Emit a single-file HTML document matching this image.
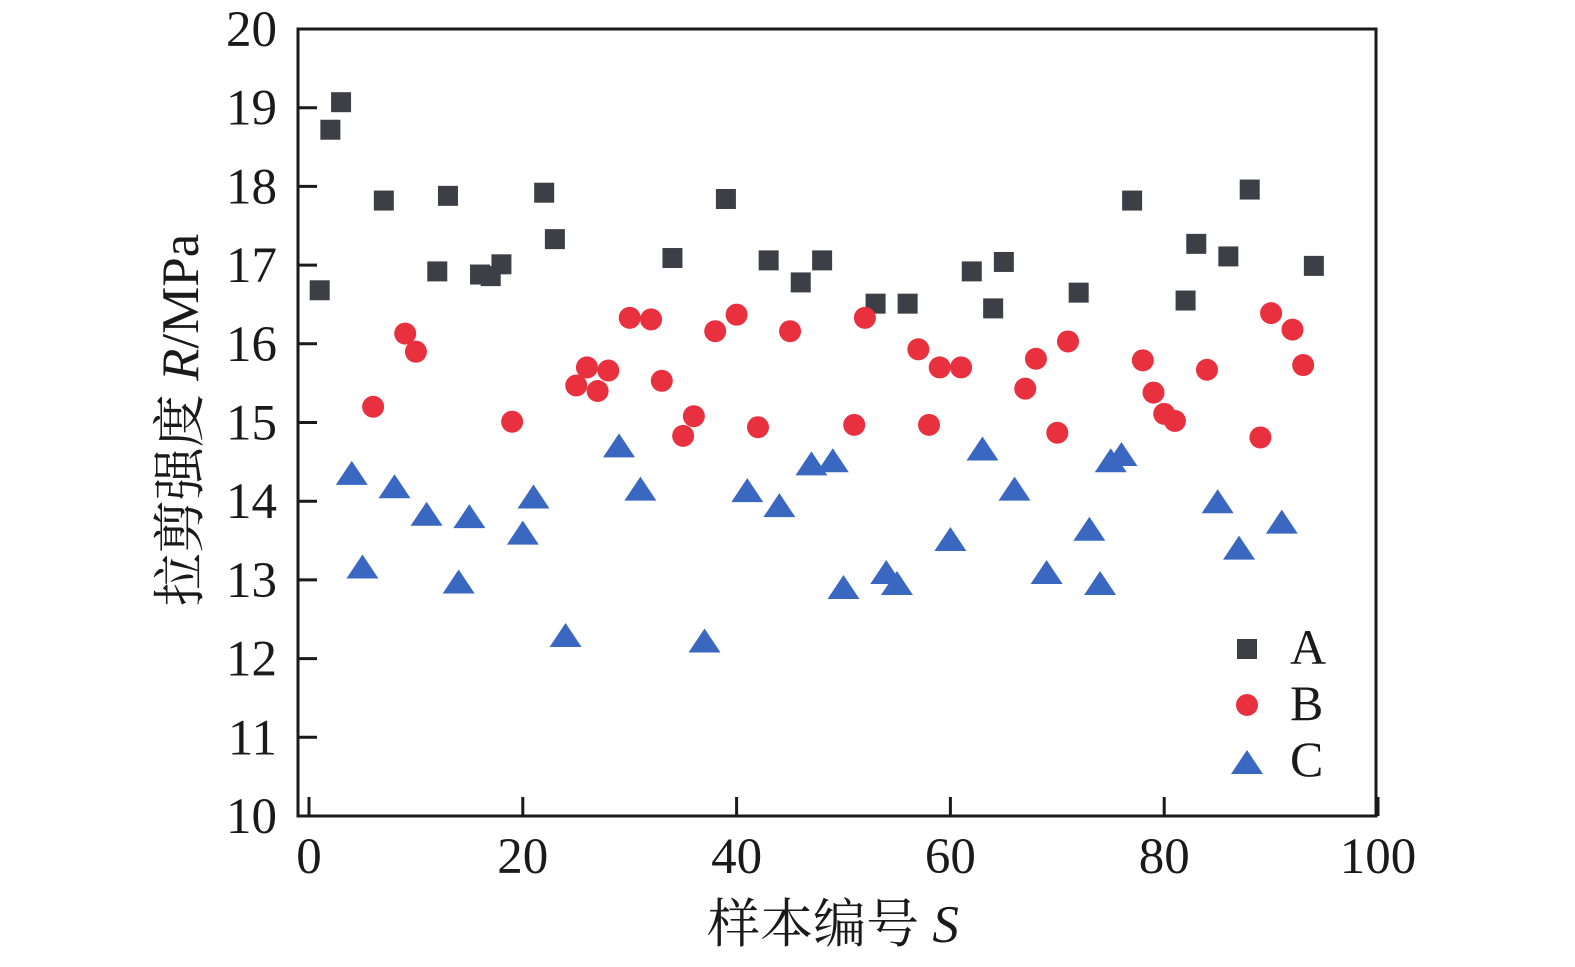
<!DOCTYPE html>
<html><head><meta charset="utf-8"><style>
body{margin:0;background:#fff}
svg text{font-family:"Liberation Serif","Noto Serif CJK SC",serif;fill:#1a1a1a}
</style></head><body>
<svg id="chart" width="1575" height="962" xmlns="http://www.w3.org/2000/svg">
<g id="marks"></g>
<rect x="298" y="29" width="1078" height="787" fill="none" stroke="#1a1a1a" stroke-width="3"/>
<g id="axes"></g>
<text x="833" y="942" font-size="53" text-anchor="middle">样本编号 <tspan font-style="italic">S</tspan></text>
<text transform="translate(198,420) rotate(-90)" font-size="53" text-anchor="middle">拉剪强度 <tspan font-style="italic">R</tspan>/MPa</text>
<g>
<rect x="1237" y="639" width="20" height="20" fill="#3d3f46"/>
<text x="1290" y="664" font-size="50">A</text>
<circle cx="1247" cy="705" r="11" fill="#e8303f"/>
<text x="1290" y="720" font-size="50">B</text>
<polygon points="1247,750 1263,774 1231,774" fill="#3a68c0"/>
<text x="1290" y="776" font-size="50">C</text>
</g>
</svg>
<script>
const xTicks=[0,20,40,60,80,100];
const yTicks=[10,11,12,13,14,15,16,17,18,19,20];
const aX=[1,2,3,7,12,13,16,17,18,22,23,34,39,43,46,48,53,56,62,64,65,72,77,82,83,86,88,94];
const aY=[16.68,18.72,19.07,17.82,16.92,17.88,16.88,16.86,17.01,17.92,17.33,17.09,17.84,17.06,16.78,17.06,16.51,16.51,16.92,16.45,17.04,16.65,17.82,16.55,17.27,17.11,17.96,16.99];
const bX=[6,9,10,19,25,26,27,28,30,32,33,35,36,38,40,42,45,51,52,57,58,59,61,67,68,70,71,78,79,80,81,84,89,90,92,93];
const bY=[15.20,16.13,15.90,15.01,15.47,15.70,15.40,15.66,16.33,16.31,15.53,14.83,15.08,16.16,16.37,14.94,16.16,14.97,16.33,15.93,14.97,15.70,15.70,15.43,15.81,14.87,16.03,15.79,15.38,15.11,15.02,15.67,14.81,16.39,16.18,15.73];
const cX=[4,5,8,11,14,15,20,21,24,29,31,37,41,44,47,49,50,54,55,60,63,66,69,73,74,75,76,85,87,91];
const cY=[14.36,13.17,14.19,13.84,12.98,13.81,13.60,14.06,12.30,14.71,14.16,12.23,14.14,13.95,14.48,14.52,12.91,13.10,12.96,13.52,14.67,14.16,13.10,13.65,12.96,14.52,14.60,14.0,13.41,13.74];
const NS='http://www.w3.org/2000/svg';
const sx=v=>309+v*10.69;
const sy=v=>816-(v-10)*78.7;
const marks=document.getElementById('marks'),axes=document.getElementById('axes');
function mk(tag,attrs,parent){const e=document.createElementNS(NS,tag);for(const k in attrs)e.setAttribute(k,attrs[k]);parent.appendChild(e);return e;}
xTicks.forEach(t=>{
 const l=mk('line',{x1:sx(t),x2:sx(t),y1:816,y2:797,stroke:'#1a1a1a','stroke-width':3},axes);
 
 
 const tx=mk('text',{x:sx(t),y:873,'font-size':51,'text-anchor':'middle'},axes);tx.textContent=t;
 
 
});
yTicks.forEach(t=>{
 const l=mk('line',{x1:298,x2:317,y1:sy(t),y2:sy(t),stroke:'#1a1a1a','stroke-width':3},axes);
 
 
 const tx=mk('text',{x:277,y:sy(t)+17,'font-size':51,'text-anchor':'end'},axes);tx.textContent=t;
 
 
});
aX.forEach((x,i)=>{const e=mk('rect',{x:sx(x)-10,y:sy(aY[i])-10,width:20,height:20,fill:'#3d3f46'},marks);
 
 });
bX.forEach((x,i)=>{const e=mk('circle',{cx:sx(x),cy:sy(bY[i]),r:11,fill:'#e8303f'},marks);
 
 });
cX.forEach((x,i)=>{const X=sx(x),Y=sy(cY[i]);const e=mk('polygon',{points:`${X},${Y-12} ${X+16},${Y+12} ${X-16},${Y+12}`,fill:'#3a68c0'},marks);
 
 });
</script>
</body></html>
